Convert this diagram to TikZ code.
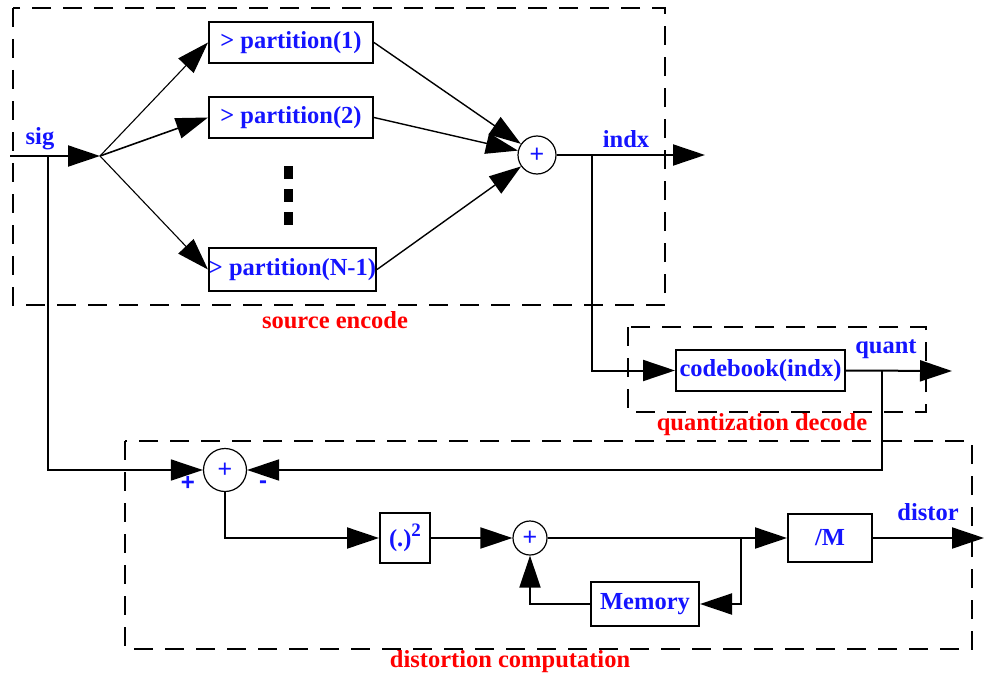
\documentclass[tikz,border=0pt]{standalone}
\usepackage{fontspec}
\setmainfont{Liberation Serif}
\newfontfamily\plusfont{Liberation Sans}
\usetikzlibrary{arrows.meta}
\definecolor{lblue}{RGB}{20,20,255}
\definecolor{lred}{RGB}{255,0,0}
\tikzset{
  blk/.style={draw, line width=2pt, inner sep=0pt, font=\fontsize{24.5}{26}\selectfont\bfseries, text=lblue},
  sumc/.style={draw, circle, line width=1.2pt, inner sep=0pt, minimum size=#1, font=\plusfont\fontsize{25}{26}\selectfont, text=lblue},
  grp/.style={draw, line width=2pt, dash pattern=on 19pt off 12pt},
  lab/.style={font=\fontsize{24.5}{26}\selectfont\bfseries, text=lblue, inner sep=0pt},
  grplab/.style={font=\fontsize{24.5}{26}\selectfont\bfseries, text=lred, inner sep=0pt},
  sgn/.style={font=\plusfont\fontsize{24}{26}\selectfont\bfseries, text=lblue, inner sep=0pt},
  arr/.style={line width=2pt, -{Triangle[length=32pt,width=21pt]}},
  thinarr/.style={line width=1.1pt, -{Triangle[length=32pt,width=21pt]}},
}
\begin{document}
\begin{tikzpicture}[x=1pt,y=-1pt]
\useasboundingbox (0,0) rectangle (985,677);

% group boxes
\draw[grp] (13,8) rectangle (665,305);
\draw[grp] (628,327) rectangle (926,412);
\draw[grp] (125,441) rectangle (972,649);
\node[grplab] (lse) at (335,320) {source encode};
\node[grplab] (lqd) at (762,425) {quantization decode};
\node[grplab] (ldc) at (510,662) {distortion computation};

% blocks
\node[blk, minimum width=164pt, minimum height=41pt] (p1) at (291,42.5) {> partition(1)};
\node[blk, minimum width=164pt, minimum height=41pt] (p2) at (291,117.5) {> partition(2)};
\node[blk, minimum width=167pt, minimum height=43pt] (pn) at (292.5,269.5) {> partition(N-1)};
\node[blk, minimum width=169pt, minimum height=41pt] (cb) at (760.5,370.5) {codebook(indx)};
\node[blk, minimum width=50pt, minimum height=50pt] (sq) at (405,538) {(.)\raisebox{10pt}{\fontsize{19}{19}\selectfont 2}};
\node[blk, minimum width=84pt, minimum height=48pt] (mb) at (830,538) {/M};
\node[blk, minimum width=108pt, minimum height=44pt] (mem) at (645,604) {Memory};

% summing junctions
\node[sumc=38pt] (s1) at (537,155) {+};
\node[sumc=43pt] (s2) at (225,470) {+};
\node[sumc=34pt] (s3) at (530,538) {+};

% dots
\draw[line width=9pt, dash pattern=on 13pt off 10pt] (288,166) -- (288,228);

% coordinates
\coordinate (sin) at (10,156);
\coordinate (br) at (100,156);
\coordinate (tap) at (48,156);
\coordinate (iout) at (705,155);
\coordinate (itap) at (592,155);
\coordinate (qout) at (952,371);
\coordinate (qtap) at (882,371);
\coordinate (dout) at (984,538);
\coordinate (jt) at (741,538);

% source encode wires
\draw[arr] (sin) -- (br);
\draw[thinarr] (br) -- (p1.west);
\draw[arr, line width=1.6pt] (br) -- (p2.west);
\draw[thinarr] (br) -- (pn.west);
\draw[thinarr, line width=1.4pt] (p1.east) -- (s1);
\draw[thinarr, line width=1.4pt] (p2.east) -- (s1);
\draw[thinarr, line width=1.4pt] (pn.east) -- (s1);
\draw[arr] (s1.east) -- (iout);
\draw[arr] (itap) |- (cb.west);
\draw[arr] (cb.east) -- (qout);

% distortion
\draw[arr, line width=1.6pt] (tap) |- (s2.west);
\draw[arr] (qtap) |- (s2.east);
\draw[arr] (s2.south) |- (sq.west);
\draw[arr] (sq.east) -- (s3.west);
\draw[arr] (s3.east) -- (mb.west);
\draw[arr] (jt) |- (mem.east);
\draw[arr] (mem.west) -| (s3.south);
\draw[arr] (mb.east) -- (dout);

% labels
\node[lab] (lsig) at (40,139) {sig};
\node[lab] (lindx) at (626,139) {indx};
\node[lab] (lquant) at (886,349) {quant};
\node[lab] (ldist) at (928,512) {distor};
\node[sgn] (lplus) at (188,483) {+};
\node[sgn] (lminus) at (263,485) {-};
\end{tikzpicture}
\end{document}
